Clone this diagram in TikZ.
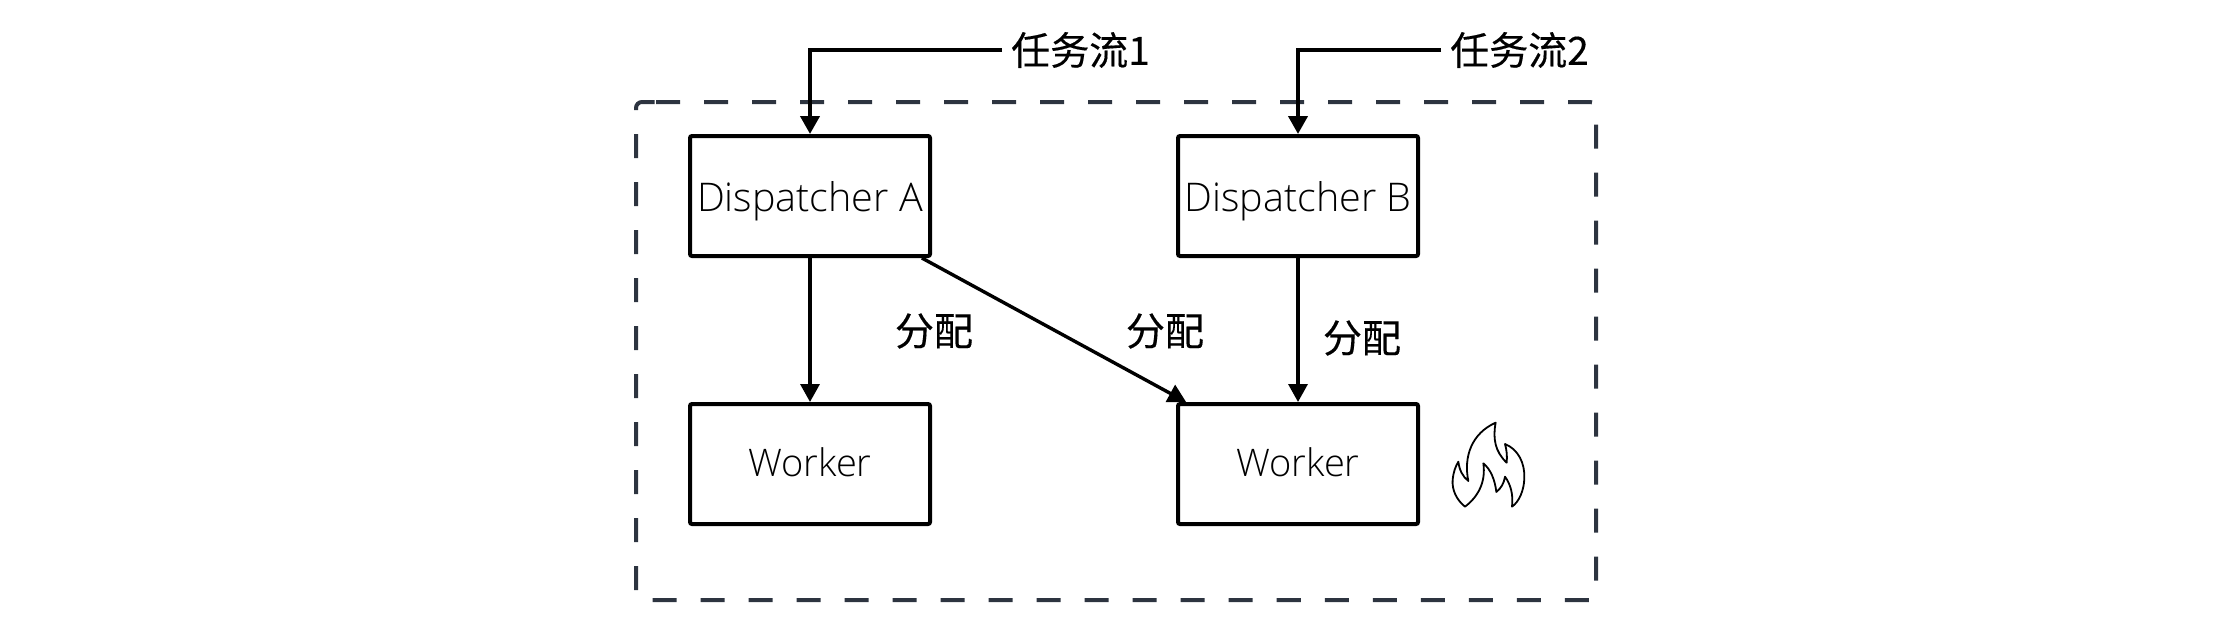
\documentclass[tikz,border=0pt]{standalone}
\usepackage{fontspec}
\setmainfont{Open Sans}[UprightFont=* Light]
\newfontfamily\cjk{Noto Sans CJK SC}[FakeBold=0.3]
\usetikzlibrary{arrows.meta}
\tikzstyle{box}=[draw=black,line width=4pt,rounded corners=2pt,minimum width=240pt,minimum height=120pt,inner sep=0pt,text depth=0pt,font=\fontsize{39.5}{46}\selectfont]
\tikzstyle{tag}=[inner sep=0pt,font=\cjk\fontsize{39}{45}\selectfont]
\tikzstyle{flow}=[draw=black,line width=4pt,-{Triangle[length=18pt,width=19pt]}]
\tikzstyle{assign}=[draw=black,line width=3.4pt,-{Triangle[length=18pt,width=19pt]}]

\begin{document}
\begin{tikzpicture}[x=1pt,y=-1pt]
  \useasboundingbox (0,0) rectangle (2234,616);
  \draw [color={rgb,255:red,45;green,52;blue,64},line width=4pt,rounded corners=6pt,dash pattern=on 24pt off 24pt]
    (650,102) -- (1596,102) -- (1596,600) -- (636,600) -- (636,102) -- cycle;
  \node [box] (dispatcherA) at (810,196) {Dispatcher A};
  \node [box] (dispatcherB) at (1298,196) {Dispatcher B};
  \node [box,text depth=4pt,font=\fontsize{38}{44}\selectfont] (workerA) at (810,464) {Worker};
  \node [box,text depth=4pt,font=\fontsize{38}{44}\selectfont] (workerB) at (1298,464) {Worker};
  \node [tag,anchor=west,inner xsep=9pt] (flowA) at (1002,50) {任务流1};
  \node [tag,anchor=west,inner xsep=9pt] (flowB) at (1441,50) {任务流2};
  \node [tag] (assignA) at (934,331) {分配};
  \node [tag] (assignB) at (1165,331) {分配};
  \node [tag] (assignC) at (1362,338) {分配};
  \draw [flow] (flowA.west) -| (dispatcherA.north);
  \draw [flow] (flowB.west) -| (dispatcherB.north);
  \draw [assign] (dispatcherA.south) -- (workerA.north);
  \draw [assign] (dispatcherA.-29.7) -- (workerB.151.2);
  \draw [assign] (dispatcherB.south) -- (workerB.north);
  \begin{scope}[shift={(1400,380)},x=.3333pt,y=-.3333pt]
    \draw [line width=1.8pt,line join=round]
      (287,128) .. controls (278,175) and (285,215) .. (320,248)
      .. controls (322,228) and (320,210) .. (315,192)
      .. controls (355,208) and (375,250) .. (373,295)
      .. controls (372,330) and (358,365) .. (336,380)
      .. controls (340,345) and (333,315) .. (315,290)
      .. controls (312,310) and (303,325) .. (289,336)
      .. controls (285,300) and (272,268) .. (250,250)
      .. controls (258,305) and (235,350) .. (195,380)
      .. controls (170,360) and (155,330) .. (158,298)
      .. controls (160,278) and (166,260) .. (175,245)
      .. controls (178,270) and (188,290) .. (205,303)
      .. controls (190,230) and (215,160) .. (287,128) -- cycle;
  \end{scope}
\end{tikzpicture}
\end{document}
